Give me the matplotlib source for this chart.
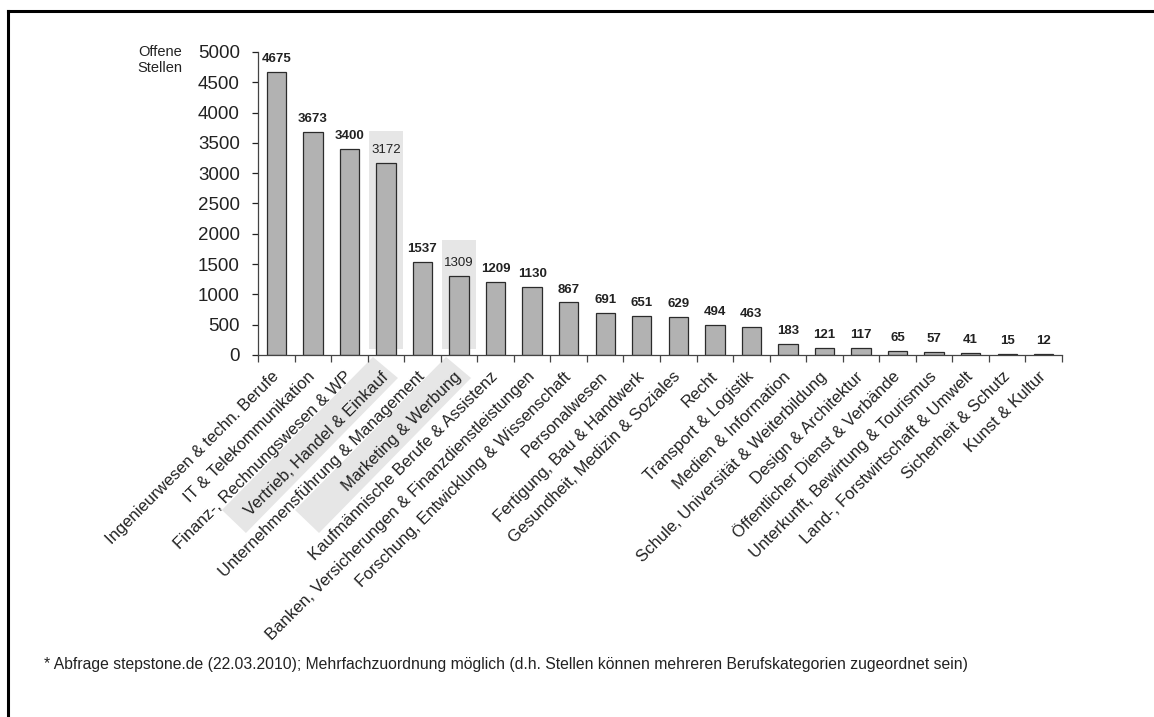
import matplotlib
matplotlib.use("Agg")
import matplotlib.pyplot as plt
import matplotlib.transforms as mtransforms
from matplotlib.patches import Polygon
from matplotlib.lines import Line2D

plt.rcParams['font.family'] = ['Liberation Sans', 'DejaVu Sans']

categories = [
    "Ingenieurwesen & techn. Berufe", "IT & Telekommunikation",
    "Finanz-, Rechnungswesen & WP", "Vertrieb, Handel & Einkauf",
    "Unternehmensführung & Management", "Marketing & Werbung",
    "Kaufmännische Berufe & Assistenz",
    "Banken, Versicherungen & Finanzdienstleistungen",
    "Forschung, Entwicklung & Wissenschaft", "Personalwesen",
    "Fertigung, Bau & Handwerk", "Gesundheit, Medizin & Soziales",
    "Recht", "Transport & Logistik", "Medien & Information",
    "Schule, Universität & Weiterbildung", "Design & Architektur",
    "Öffentlicher Dienst & Verbände", "Unterkunft, Bewirtung & Tourismus",
    "Land-, Forstwirtschaft & Umwelt", "Sicherheit & Schutz",
    "Kunst & Kultur",
]
values = [4675, 3673, 3400, 3172, 1537, 1309, 1209, 1130, 867, 691, 651,
          629, 494, 463, 183, 121, 117, 65, 57, 41, 15, 12]

# highlighted categories and the top of their grey boxes
highlight_idx = [3, 5]
highlight_top = [3700, 1900]
highlight_bottom = 100

footnote = ("* Abfrage stepstone.de (22.03.2010); Mehrfachzuordnung möglich "
            "(d.h. Stellen können mehreren Berufskategorien zugeordnet sein)")

fig = plt.figure(figsize=(11.54, 7.17), dpi=100)
ax = fig.add_axes([0.2236, 0.5049, 0.9203 - 0.2236, 0.9275 - 0.5049])

x = list(range(len(values)))
hl_color = '#e6e6e6'

# grey highlight boxes behind the bars
for i, top in zip(highlight_idx, highlight_top):
    ax.bar(i, top - highlight_bottom, bottom=highlight_bottom, width=0.95,
           color=hl_color, zorder=0, linewidth=0)
    # rotated band behind the tick label (offsets in inches from the tick)
    band = [(-0.13, -0.02), (0.12, -0.23), (-1.40, -1.78), (-1.64, -1.55)]
    trans = fig.dpi_scale_trans + mtransforms.ScaledTranslation(i, 0, ax.transData)
    ax.add_patch(Polygon(band, closed=True, transform=trans, color=hl_color,
                         zorder=0, clip_on=False, linewidth=0))

ax.bar(x, values, width=0.53, color='#b2b2b2', edgecolor='#2b2b2b',
       linewidth=0.9, zorder=2)

for i, v in enumerate(values):
    weight = 'normal' if i in highlight_idx else 'bold'
    ax.annotate(str(v), (i, v), xytext=(0, 5), textcoords='offset points',
                ha='center', va='bottom', fontsize=9.5, fontweight=weight,
                color='#222222')

ax.set_xlim(-0.5, len(values) - 0.5)
ax.set_ylim(0, 5000)
ax.set_yticks(range(0, 5001, 500))
ax.tick_params(axis='y', labelsize=13.5, length=4, width=0.9, pad=9,
               colors='#222222')

ax.set_xticks(x)
ax.set_xticklabels(categories, rotation=45, ha='right', va='center',
                   rotation_mode='anchor', fontsize=12, color='#222222')
ax.tick_params(axis='x', which='major', length=0, pad=14)
ax.set_xticks([i - 0.5 for i in range(len(values) + 1)], minor=True)
ax.tick_params(axis='x', which='minor', length=5, width=0.9, color='#444444')

for side in ['top', 'right']:
    ax.spines[side].set_visible(False)
for side in ['left', 'bottom']:
    ax.spines[side].set_linewidth(0.9)
    ax.spines[side].set_color('#444444')

fig.text(182 / 1154, 1 - 60 / 717, "Offene\nStellen", ha='right', va='center',
         fontsize=10.5, linespacing=1.25, color='#222222')
fig.text(44 / 1154, 1 - 665 / 717, footnote, ha='left', va='center',
         fontsize=11.35, color='#222222')

# frame lines on top and left edge
fig.add_artist(Line2D([8 / 1154, 1], [1 - 11 / 717] * 2, color='black', lw=2.2))
fig.add_artist(Line2D([8 / 1154] * 2, [1 - 11 / 717, 0], color='black', lw=2.2))

fig.savefig("out.png", dpi=100)
